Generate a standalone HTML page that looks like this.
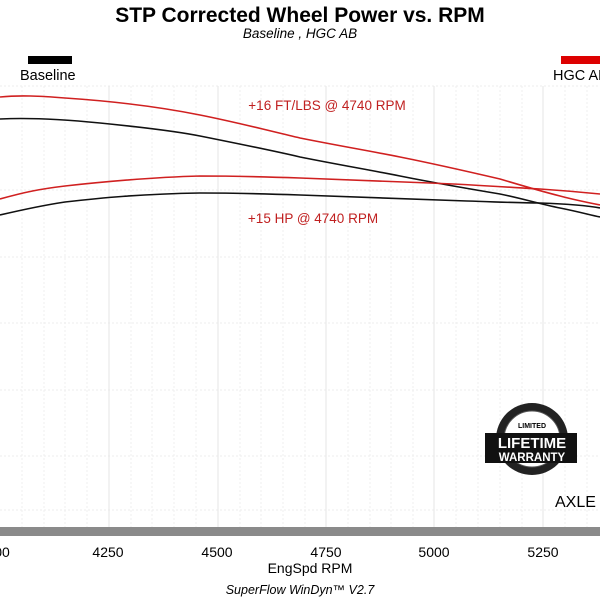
<!DOCTYPE html>
<html><head><style>
body{margin:0;background:#fff;}
svg{display:block;font-family:"Liberation Sans",sans-serif;}
</style></head><body>
<svg width="600" height="600" viewBox="0 0 600 600">
<rect width="600" height="600" fill="#fff"/>
<g stroke="#ececec" stroke-width="1" stroke-dasharray="2,2">
<line x1="0" y1="86" x2="600" y2="86"/>
<line x1="0" y1="190" x2="600" y2="190"/>
<line x1="0" y1="257" x2="600" y2="257"/>
<line x1="0" y1="323" x2="600" y2="323"/>
<line x1="0" y1="390" x2="600" y2="390"/>
<line x1="0" y1="456" x2="600" y2="456"/>
<line x1="0" y1="510" x2="600" y2="510"/>
</g>
<g stroke="#efefef" stroke-width="1" stroke-dasharray="2,2">
<line x1="22" y1="86" x2="22" y2="527"/><line x1="44" y1="86" x2="44" y2="527"/><line x1="65" y1="86" x2="65" y2="527"/><line x1="87" y1="86" x2="87" y2="527"/>
<line x1="131" y1="86" x2="131" y2="527"/><line x1="152" y1="86" x2="152" y2="527"/><line x1="174" y1="86" x2="174" y2="527"/><line x1="196" y1="86" x2="196" y2="527"/>
<line x1="240" y1="86" x2="240" y2="527"/><line x1="261" y1="86" x2="261" y2="527"/><line x1="283" y1="86" x2="283" y2="527"/><line x1="305" y1="86" x2="305" y2="527"/>
<line x1="348" y1="86" x2="348" y2="527"/><line x1="370" y1="86" x2="370" y2="527"/><line x1="391" y1="86" x2="391" y2="527"/><line x1="413" y1="86" x2="413" y2="527"/>
<line x1="456" y1="86" x2="456" y2="527"/><line x1="478" y1="86" x2="478" y2="527"/><line x1="500" y1="86" x2="500" y2="527"/><line x1="522" y1="86" x2="522" y2="527"/>
<line x1="565" y1="86" x2="565" y2="527"/><line x1="587" y1="86" x2="587" y2="527"/>
</g>
<g stroke="#e6e6e6" stroke-width="1">
<line x1="109" y1="86" x2="109" y2="527"/><line x1="218" y1="86" x2="218" y2="527"/><line x1="326" y1="86" x2="326" y2="527"/><line x1="434" y1="86" x2="434" y2="527"/><line x1="543" y1="86" x2="543" y2="527"/>
</g>
<rect x="0" y="527" width="600" height="9" fill="#8a8a8a"/>
<text x="300" y="22" text-anchor="middle" font-size="21" font-weight="bold">STP Corrected Wheel Power vs. RPM</text>
<text x="300" y="38" text-anchor="middle" font-size="13.5" font-style="italic">Baseline , HGC AB</text>
<rect x="28" y="56" width="44" height="8" fill="#000"/>
<text x="20" y="80" font-size="14.5">Baseline</text>
<rect x="561" y="56" width="40" height="8" fill="#d00"/>
<text x="553" y="80" font-size="14.5">HGC AB</text>
<g fill="none" stroke-width="1.6" stroke-linejoin="round">
<path d="M0,97 C20,95 40,96 65,98 C110,101 160,107 200,115 C240,123 270,131 300,138 C340,146 370,151 400,157 C440,165 470,172 500,179 C520,185 540,191 560,196 C575,200 590,203 600,205" stroke="#d02020"/>
<path d="M0,119 C20,118 50,118 100,123 C140,127 175,131 200,136 C240,144 270,150 300,157 C340,165 370,170 400,176 C440,184 470,189 500,194 C520,198 540,204 560,208 C580,212 590,215 600,217" stroke="#111"/>
<path d="M0,199 C25,192 40,189 65,186 C120,180 160,177 200,176 C240,176 270,177 300,178 C350,180 400,182 430,183 C480,185 520,188 540,189 C570,191 590,193 600,194" stroke="#d02020"/>
<path d="M0,215 C30,208 45,205 65,202 C100,198 140,194 200,193 C240,193 270,194 300,195 C370,197 430,200 467,201 C500,202 520,203 540,203 C570,204 590,206 600,208" stroke="#111"/>
</g>
<text x="327" y="110" text-anchor="middle" font-size="13.5" fill="#c02020">+16 FT/LBS @ 4740 RPM</text>
<text x="313" y="223" text-anchor="middle" font-size="13.5" fill="#c02020">+15 HP @ 4740 RPM</text>
<g>
<circle cx="532" cy="439" r="36" fill="#222"/>
<circle cx="532" cy="439" r="28" fill="#fff" stroke="#555"/>
<rect x="485" y="433" width="92" height="30" fill="#111"/>
<text x="532" y="428" text-anchor="middle" font-size="7" font-weight="bold">LIMITED</text>
<text x="532" y="448" text-anchor="middle" font-size="15" font-weight="bold" fill="#fff">LIFETIME</text>
<text x="532" y="461" text-anchor="middle" font-size="11.5" font-weight="bold" fill="#fff">WARRANTY</text>
</g>
<text x="555" y="507" font-size="16">AXLE</text>
<g font-size="14" text-anchor="middle">
<text x="2" y="557">00</text><text x="108" y="557">4250</text><text x="217" y="557">4500</text><text x="326" y="557">4750</text><text x="434" y="557">5000</text><text x="543" y="557">5250</text>
</g>
<text x="310" y="573" text-anchor="middle" font-size="14">EngSpd  RPM</text>
<text x="300" y="594" text-anchor="middle" font-size="12.5" font-style="italic">SuperFlow WinDyn™ V2.7</text>
</svg>
</body></html>
